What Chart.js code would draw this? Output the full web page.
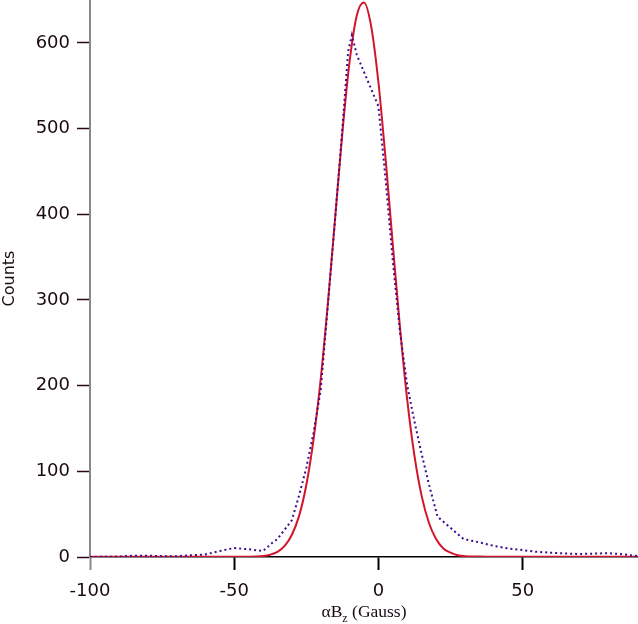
<!DOCTYPE html>
<html>
<head>
<meta charset="utf-8">
<script src="https://cdn.jsdelivr.net/npm/chart.js@4"></script>
<style>
    html, body { margin: 0; padding: 0; background: #fff; }
    #wrap { width: 638px; height: 624px; }
</style>
</head>
<body>
<div id="wrap"><canvas id="fieldChart" width="638" height="624"></canvas></div>
<script>
// measured histogram (dotted)
const histX = [-100, -90, -85, -80, -75, -70, -65, -60, -55, -50, -45, -40, -37, -35, -30, -27.5, -25, -22.5, -20, -17.5, -15, -12.5, -10.5, -9.2, -7.5, 0, 2.5, 5, 7.5, 10, 12.5, 15, 17.5, 20.5, 25, 29.5, 35, 40, 45, 50, 55, 60, 65, 70, 75, 80, 85, 90];
const histCounts = [0, 0.5, 1.5, 1.5, 1, 1, 2, 3, 7, 10.5, 9, 7, 16, 21, 43, 72, 104, 145, 195, 295, 395, 500, 590, 609, 586, 526, 440, 345, 262, 200, 158, 120, 85, 47, 34, 21, 17, 13, 10, 8, 6, 5, 4, 3.5, 4, 4.5, 3, 1];

// gaussian fit (solid red)
const fitX = [-100, -80, -60, -50, -45, -42.5, -40, -37.5, -35, -32.5, -30, -27.5, -25, -22.5, -20, -17.5, -15, -12.5, -10, -7.5, -5, -2.5, 0, 2.5, 5, 7.5, 10, 12.5, 15, 17.5, 20, 22.5, 25, 27.5, 30, 35, 40, 60, 90];
const fitCounts = [0.3, 0.3, 0.3, 0.3, 0.4, 0.6, 1.2, 2.7, 6, 13, 26, 48, 84, 137, 208, 297, 396, 495, 578, 632, 647, 619, 554, 464, 364, 267, 183, 118, 71, 40, 21, 10, 5, 2, 1, 0.5, 0.3, 0.3, 0.3];

const xTicks = [-100, -50, 0, 50];
const yTicks = [0, 100, 200, 300, 400, 500, 600];

const textColor = '#1a0a14';

function toPoints(xs, ys) {
    return xs.map((x, i) => ({ x: x, y: ys[i] }));
}

// x title has a subscript, so it is drawn by hand
const xTitlePlugin = {
    id: 'xTitle',
    afterDraw(chart) {
        const ctx = chart.ctx;
        const area = chart.chartArea;
        const big = '17.5px "Liberation Serif", "DejaVu Serif", serif';
        const small = '12px "Liberation Serif", "DejaVu Serif", serif';
        const partA = '\u03b1B';
        const partB = 'z';
        const partC = ' (Gauss)';
        ctx.save();
        ctx.fillStyle = textColor;
        ctx.textBaseline = 'alphabetic';
        ctx.textAlign = 'left';
        ctx.font = big;
        const wA = ctx.measureText(partA).width;
        const wC = ctx.measureText(partC).width;
        ctx.font = small;
        const wB = ctx.measureText(partB).width;
        let x = (area.left + area.right) / 2 - (wA + wB + wC) / 2;
        const base = 617;
        ctx.font = big;
        ctx.fillText(partA, x, base);
        x += wA;
        ctx.font = small;
        ctx.fillText(partB, x, base + 5);
        x += wB;
        ctx.font = big;
        ctx.fillText(partC, x, base);
        ctx.restore();
    }
};

const ctx = document.getElementById('fieldChart').getContext('2d');
new Chart(ctx, {
    type: 'scatter',
    data: {
        datasets: [
            {
                label: 'data',
                data: toPoints(histX, histCounts),
                showLine: true,
                borderColor: '#3d0c8c',
                borderWidth: 2,
                borderDash: [2, 3],
                pointRadius: 0,
                tension: 0
            },
            {
                label: 'fit',
                data: toPoints(fitX, fitCounts),
                showLine: true,
                borderColor: '#d4142c',
                borderWidth: 2,
                pointRadius: 0,
                cubicInterpolationMode: 'monotone'
            }
        ]
    },
    options: {
        responsive: false,
        animation: false,
        layout: { padding: 0 },
        plugins: {
            legend: { display: false },
            tooltip: { enabled: false }
        },
        scales: {
            x: {
                type: 'linear',
                min: -100,
                max: 90,
                afterBuildTicks: s => { s.ticks = xTicks.map(v => ({ value: v })); },
                afterFit: s => { s.height = 67; s.paddingLeft = 0; s.paddingRight = 0; },
                ticks: {
                    color: textColor,
                    font: { family: '"DejaVu Sans", sans-serif', size: 18 },
                    padding: 11,
                    maxRotation: 0
                },
                grid: {
                    drawOnChartArea: false,
                    drawTicks: true,
                    tickLength: 13,
                    tickWidth: 2,
                    tickColor: c => (c.tick && c.tick.value === -100 ? '#888' : '#000')
                },
                border: { display: true, color: '#000', width: 1.5 }
            },
            y: {
                min: 0,
                max: 650,
                afterBuildTicks: s => { s.ticks = yTicks.map(v => ({ value: v })); },
                afterFit: s => { s.width = 90; s.paddingTop = 0; s.paddingBottom = 0; },
                ticks: {
                    color: textColor,
                    font: { family: '"DejaVu Sans", sans-serif', size: 18 },
                    padding: 7
                },
                grid: {
                    drawOnChartArea: false,
                    drawTicks: true,
                    tickLength: 13,
                    tickWidth: 1.5,
                    tickColor: '#2a0a1a'
                },
                border: { display: true, color: '#888', width: 2 },
                title: {
                    display: true,
                    text: 'Counts',
                    color: textColor,
                    font: { family: '"DejaVu Sans", sans-serif', size: 16 },
                    padding: 0
                }
            }
        }
    },
    plugins: [xTitlePlugin]
});
</script>
</body>
</html>
